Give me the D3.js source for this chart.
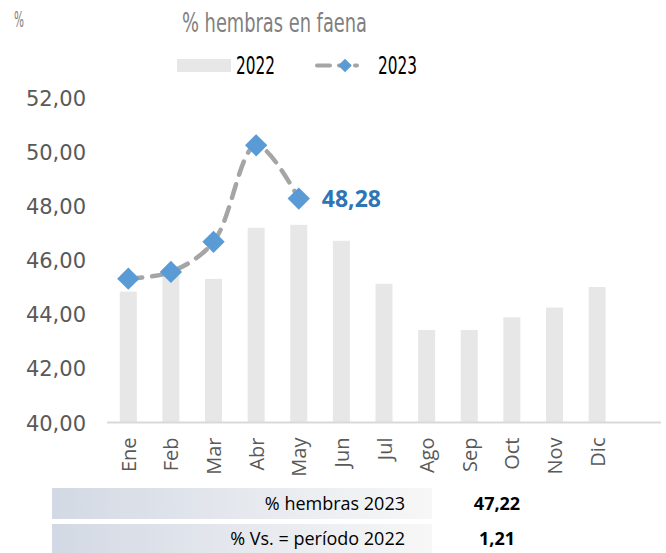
<!DOCTYPE html>
<html><head><meta charset="utf-8">
<script src="https://cdn.jsdelivr.net/npm/d3@7"></script>
<style>body{margin:0;background:#fff}svg{display:block}</style>
</head><body>
<script>
const months = ["Ene","Feb","Mar","Abr","May","Jun","Jul","Ago","Sep","Oct","Nov","Dic"];
const values2022 = [44.84,45.45,45.31,47.20,47.31,46.72,45.13,43.42,43.42,43.89,44.25,45.01];
const values2023 = [45.32,45.57,46.68,50.25,48.28];
const yTicks = [40,42,44,46,48,50,52];
const lastLabel = "48,28";
const summaryLabels = ["% hembras 2023","% Vs. = período 2022"];
const summaryValues = ["47,22","1,21"];

const W=666,H=553;
const svg=d3.select("body").append("svg").attr("width",W).attr("height",H);
const defs=svg.append("defs");
const gr=defs.append("linearGradient").attr("id","g1");
gr.append("stop").attr("offset","0%").attr("stop-color","#D3D9E4");
gr.append("stop").attr("offset","100%").attr("stop-color","#F7F7F7");

const xc=d3.scalePoint().domain(months.concat([""])).range([107+21.3,661-21.3]);
const y=d3.scaleLinear().domain([40,52]).range([422.5,98]);
const narrow="Liberation Sans Narrow, DejaVu Sans Condensed, Liberation Sans, sans-serif";

// title
svg.append("text").attr("x",182).attr("y",32).attr("textLength",185).attr("lengthAdjust","spacingAndGlyphs")
 .attr("font-family",narrow).attr("font-size",27).attr("fill","#808080").text("% hembras en faena");
svg.append("text").attr("x",14).attr("y",27).attr("textLength",10).attr("lengthAdjust","spacingAndGlyphs")
 .attr("font-family",narrow).attr("font-size",22).attr("fill","#808080").text("%");

// legend
svg.append("rect").attr("x",177).attr("y",59).attr("width",54).attr("height",13).attr("fill","#E7E7E7");
svg.append("text").attr("x",236).attr("y",73.5).attr("textLength",39).attr("lengthAdjust","spacingAndGlyphs").attr("font-family",narrow).attr("font-size",25).attr("fill","#000").text("2022");
svg.append("line").attr("x1",317).attr("x2",371).attr("y1",65.5).attr("y2",65.5).attr("stroke","#A5A5A5").attr("stroke-width",4).attr("stroke-dasharray","13,9,10,6,2,20").attr("stroke-linecap","round");
svg.append("path").attr("transform","translate(345,65.5) rotate(45)").attr("d",d3.symbol(d3.symbolSquare,90)()).attr("fill","#5B9BD5");
svg.append("text").attr("x",378).attr("y",73.5).attr("textLength",39).attr("lengthAdjust","spacingAndGlyphs").attr("font-family",narrow).attr("font-size",25).attr("fill","#000").text("2023");

// y axis labels
const yAxis=d3.axisLeft(y).tickValues(yTicks).tickSize(0).tickPadding(0).tickFormat(d=>d3.format(".2f")(d).replace(".",","));
const ya=svg.append("g").attr("transform","translate(86,0)").call(yAxis);
ya.select(".domain").remove();
ya.selectAll("text").attr("font-family","DejaVu Sans, sans-serif").attr("font-size",21).attr("fill","#595959").attr("dy","0.36em");

// bars
svg.append("g").selectAll("rect").data(values2022).join("rect")
 .attr("x",(d,i)=>xc(months[i])-8.5).attr("width",17)
 .attr("y",d=>y(d)).attr("height",d=>y(40)-y(d)).attr("fill","#E7E7E7");

// x axis
const xAxis=d3.axisBottom(xc).tickSize(0).tickPadding(0);
const xa=svg.append("g").attr("transform","translate(0,422.5)").call(xAxis);
xa.select(".domain").attr("stroke","#D9D9D9").attr("stroke-width",2).attr("d","M107,0H661");
xa.selectAll(".tick text").attr("font-family","Open Sans, sans-serif").attr("font-size",20).attr("fill","#595959")
 .attr("text-anchor","end").attr("transform","translate(0,15) rotate(-90)").attr("dy","0.35em").attr("y",0).attr("x",0);

// line
const line=d3.line().x((d,i)=>xc(months[i])).y(d=>y(d)).curve(d3.curveCatmullRom.alpha(0.5));
svg.append("path").datum(values2023).attr("d",line).attr("fill","none").attr("stroke","#A5A5A5").attr("stroke-width",4.5).attr("stroke-dasharray","14,10").attr("stroke-linecap","round");
svg.append("g").selectAll("path").data(values2023).join("path")
 .attr("transform",(d,i)=>`translate(${xc(months[i])},${y(d)}) rotate(45)`)
 .attr("d",d3.symbol(d3.symbolSquare,250)()).attr("fill","#5B9BD5");
svg.append("text").attr("x",xc(months[4])+23).attr("y",y(values2023[4])+8).attr("font-family","Open Sans, sans-serif").attr("font-weight","bold").attr("font-size",23).attr("fill","#2E75B6").text(lastLabel);

// summary table
const rows=[[488,31],[524,29]];
rows.forEach((r,i)=>{
 svg.append("rect").attr("x",52).attr("y",r[0]).attr("width",380).attr("height",r[1]).attr("fill","url(#g1)");
 svg.append("text").attr("x",405).attr("y",r[0]+r[1]/2).attr("dy","0.36em").attr("text-anchor","end").attr("font-family","Open Sans, sans-serif").attr("font-size",18).attr("fill","#000").text(summaryLabels[i]);
 svg.append("text").attr("x",497).attr("y",r[0]+r[1]/2).attr("dy","0.36em").attr("text-anchor","middle").attr("font-family","Open Sans, sans-serif").attr("font-weight","bold").attr("font-size",18).attr("fill","#000").text(summaryValues[i]);
});
</script>
</body></html>
